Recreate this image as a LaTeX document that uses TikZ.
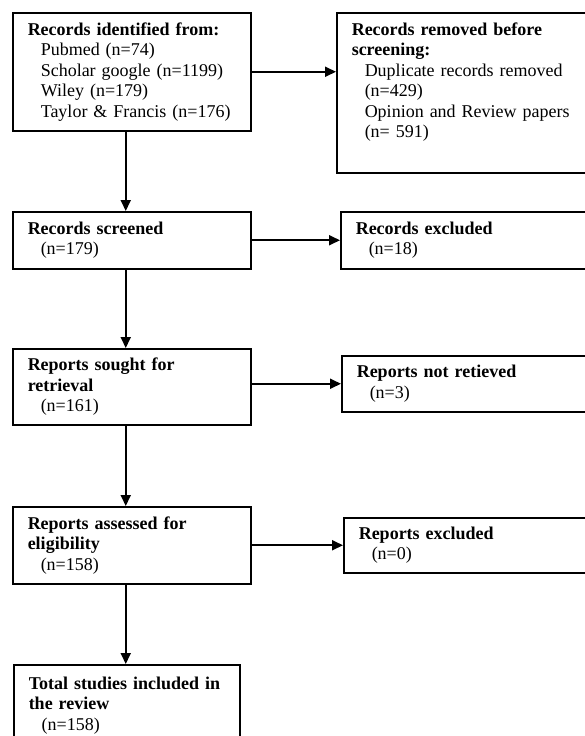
\documentclass[tikz,border=0pt]{standalone}
\usepackage{fontspec}
\setmainfont{Liberation Serif}
\usetikzlibrary{arrows.meta}
\newcommand{\ind}{\hspace*{13pt}}

\begin{document}
\begin{tikzpicture}[x=1pt,y=1pt]
    \useasboundingbox (0,0) rectangle (585,-736);
    \clip (0,0) rectangle (585,-736);
    \begin{scope}[every node/.style={draw,line width=1.5pt,anchor=north west,align=left,
                  inner xsep=15pt,inner ysep=8pt,font=\fontsize{18}{20.5}\selectfont}]
        \node[text width=208pt,minimum height=118pt] (records) at (12,-12)
            {\textbf{Records identified from:}\\ \ind Pubmed (n=74)\\ \ind Scholar google (n=1199)\\
             \ind Wiley (n=179)\\ \ind Taylor \& Francis (n=176)};
        \node[text width=230pt,minimum height=160pt,text depth=128pt] (removed) at (336,-12)
            {\textbf{Records removed before}\\ \textbf{screening:}\\ \ind Duplicate records removed\\
             \ind (n=429)\\ \ind Opinion and Review papers\\ \ind (n= 591)};
        \node[text width=208pt,minimum height=57pt] (screened) at (12,-211)
            {\textbf{Records screened}\\ \ind (n=179)};
        \node[text width=230pt,minimum height=57pt] (excluded) at (340,-211)
            {\textbf{Records excluded}\\ \ind (n=18)};
        \node[text width=208pt,minimum height=76pt] (sought) at (12,-348)
            {\textbf{Reports sought for}\\ \textbf{retrieval}\\ \ind (n=161)};
        \node[text width=230pt,minimum height=56pt] (notret) at (341,-355)
            {\textbf{Reports not retieved}\\ \ind (n=3)};
        \node[text width=208pt,minimum height=77pt] (assessed) at (12,-506)
            {\textbf{Reports assessed for}\\ \textbf{eligibility}\\ \ind (n=158)};
        \node[text width=230pt,minimum height=55pt] (repexcl) at (343,-517)
            {\textbf{Reports excluded}\\ \ind (n=0)};
        \node[text width=196pt,inner ysep=12pt,text depth=80pt] (total) at (13,-664)
            {\textbf{Total studies included in}\\ \textbf{the review}\\ \ind (n=158)};
    \end{scope}

    \begin{scope}[>={Triangle[length=11pt,width=10pt]},
                  every edge/.style={draw=black,line width=1.8pt}]
        \path [->] (records.east) edge (records.east -| removed.west);
        \path [->] ([xshift=-6pt]records.south) edge ([xshift=-6pt]screened.north);
        \path [->] (screened.east) edge (excluded.west);
        \path [->] ([xshift=-6pt]screened.south) edge ([xshift=-6pt]sought.north);
        \path [->] (notret.west -| sought.east) edge (notret.west);
        \path [->] ([xshift=-6pt]sought.south) edge ([xshift=-6pt]assessed.north);
        \path [->] (assessed.east) edge (repexcl.west);
        \path [->] ([xshift=-6pt]assessed.south) edge ([xshift=-1pt]total.north);
    \end{scope}
\end{tikzpicture}
\end{document}
